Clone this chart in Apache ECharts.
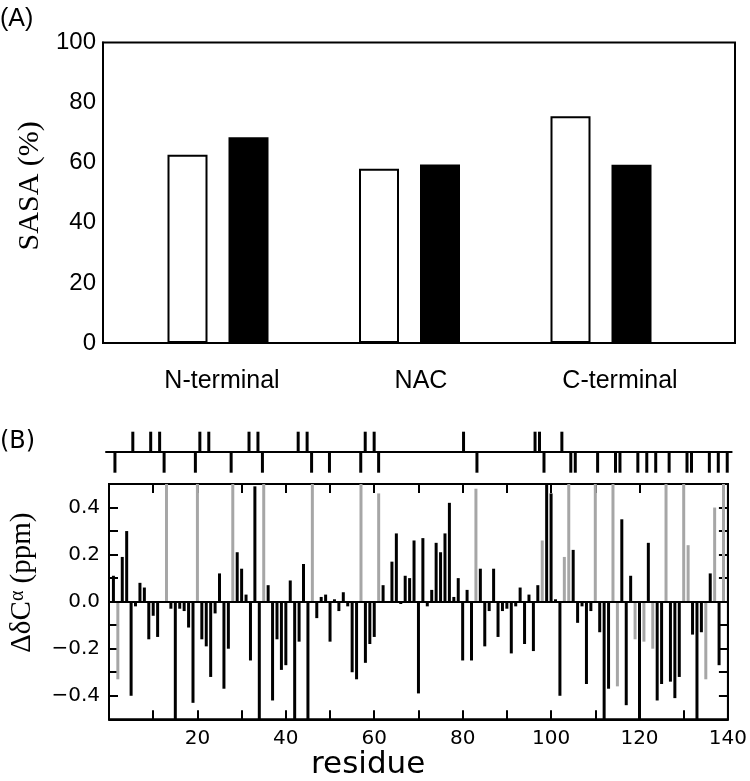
<!DOCTYPE html>
<html><head><meta charset="utf-8">
<script src="https://cdn.jsdelivr.net/npm/echarts@6/dist/echarts.min.js"></script>
<style>html,body{margin:0;padding:0;background:#fff}#c{width:750px;height:781px}</style>
</head><body><div id="c"></div>
<script>
// ---- Panel A data ----
const regions = ['N-terminal', 'NAC', 'C-terminal'];
const sasaOpen = [62.7, 58.0, 75.5];
const sasaFilled = [68.5, 59.4, 59.3];

// ---- Panel B data: ΔδCα per residue 1..140 (null = no data) ----
const shifts = [
  0.11, -0.33, 0.19, 0.30, -0.40, -0.02, 0.08, 0.06, -0.16, -0.06,      // 1-10
  -0.15, null, 0.60, -0.03, -0.60, -0.03, -0.04, -0.11, -0.43, 0.60,    // 11-20
  -0.16, -0.19, -0.32, -0.05, 0.12, -0.37, -0.20, 0.60, 0.21, 0.14,     // 21-30
  0.03, -0.25, 0.49, -0.60, 0.60, 0.07, -0.42, -0.16, -0.29, -0.27,     // 31-40
  0.09, -0.60, -0.17, 0.16, -0.60, 0.60, -0.07, 0.02, 0.03, -0.17,      // 41-50
  0.01, -0.04, 0.04, -0.02, -0.30, -0.33, 0.60, -0.26, -0.18, -0.15,    // 51-60
  0.46, 0.07, null, 0.17, 0.29, -0.01, 0.11, 0.10, 0.26, -0.39,         // 61-70
  0.27, -0.02, 0.05, 0.25, 0.21, 0.29, 0.42, 0.02, 0.10, -0.25,         // 71-80
  0.05, -0.25, 0.48, 0.14, -0.19, -0.04, 0.14, -0.15, -0.04, -0.03,     // 81-90
  -0.22, -0.02, 0.06, -0.18, 0.03, -0.21, 0.07, 0.26, 0.60, 0.46,       // 91-100
  0.01, -0.40, 0.19, 0.60, 0.22, -0.09, -0.02, -0.35, -0.04, 0.60,      // 101-110
  -0.13, -0.60, -0.37, 0.60, -0.36, 0.35, -0.44, 0.11, -0.16, -0.60,    // 111-120
  -0.17, 0.25, -0.20, -0.42, -0.35, 0.60, -0.34, -0.41, -0.32, 0.60,    // 121-130
  0.24, -0.14, -0.60, -0.13, -0.33, 0.12, 0.40, -0.27, 0.60, null       // 131-140
];
const grayResidues = [2, 13, 20, 28, 35, 46, 57, 61, 83, 98, 103, 104, 110, 114, 115, 119, 121, 123, 126, 130, 131, 135, 137, 139];
const upperMarks = [6, 10, 12, 21, 23, 32, 34, 43, 45, 58, 60, 80, 96, 97, 102];
const lowerMarks = [2, 13, 20, 28, 35, 46, 50, 57, 61, 83, 98, 104, 105, 110, 114, 115, 119, 121, 123, 126, 130, 131, 135, 137, 139];

const FA = "'Liberation Sans', Arial, sans-serif";
const FB = "'DejaVu Sans', sans-serif";
const SERIF = "'Liberation Serif', 'Times New Roman', serif";
const BLACK = '#000';
const GRAY = '#a6a6a6';
const line2 = {color: BLACK, width: 2};

const chart = echarts.init(document.getElementById('c'));

const shiftData = [];
shifts.forEach((v, i) => {
  if (v === null) return;
  const r = i + 1;
  shiftData.push({value: [r, v], itemStyle: {color: grayResidues.includes(r) ? GRAY : BLACK}});
});
const markData = upperMarks.map(r => [r, 1]).concat(lowerMarks.map(r => [r, -1]));

chart.setOption({
  animation: false,
  backgroundColor: '#fff',
  title: [
    {text: '(A)', left: 0, top: 7, padding: 0, textStyle: {fontFamily: FA, fontSize: 25, fontWeight: 'normal', color: BLACK}},
    {text: '(B)', left: 0, top: 430, padding: 0, textStyle: {fontFamily: FB, fontSize: 24, fontWeight: 'normal', color: BLACK}},
    {text: 'residue', left: 311, top: 749, padding: 0, textStyle: {fontFamily: FB, fontSize: 31, fontWeight: 'normal', color: BLACK}}
  ],
  grid: [
    {left: 103, right: 15, top: 42.6, height: 300.4, show: true, borderColor: BLACK, borderWidth: 2, backgroundColor: 'transparent'},
    {left: 122.25, right: 53.25, top: 42.6, height: 300.4},
    {left: 122.5, right: 30.5, top: 42.6, height: 300.4},
    {left: 106, right: 18.3, top: 431.7, height: 41},
    {left: 106, right: 18.3, top: 484, height: 235.3, show: true, borderColor: BLACK, borderWidth: 2, backgroundColor: 'transparent'}
  ],
  xAxis: [
    {gridIndex: 0, type: 'category', data: regions, show: false},
    {gridIndex: 1, type: 'category', data: regions, show: false},
    {gridIndex: 2, type: 'category', data: regions, axisLine: {show: false}, axisTick: {show: false},
     axisLabel: {fontFamily: FA, fontSize: 25, color: BLACK, margin: 26}},
    {gridIndex: 3, type: 'value', min: 0, max: 140, axisLine: {show: true, onZero: true, lineStyle: line2},
     axisTick: {show: false}, axisLabel: {show: false}, splitLine: {show: false}},
    {gridIndex: 4, type: 'value', min: 0, max: 140, interval: 10, position: 'bottom',
     axisLine: {show: true, onZero: false, lineStyle: line2},
     axisTick: {inside: true, length: 9, lineStyle: line2},
     axisLabel: {formatter: v => (v > 0 && v % 20 === 0) ? String(v) : '', fontFamily: FB, fontSize: 20, color: BLACK, margin: 9},
     splitLine: {show: false}},
    {gridIndex: 4, type: 'value', min: 0, max: 140, interval: 10, position: 'top',
     axisLine: {show: true, onZero: false, lineStyle: line2},
     axisTick: {inside: true, length: 9, lineStyle: line2},
     axisLabel: {show: false}, splitLine: {show: false}}
  ],
  yAxis: [
    {gridIndex: 0, type: 'value', min: 0, max: 100, interval: 10,
     axisLine: {show: true, lineStyle: line2},
     axisTick: {inside: true, length: 7, lineStyle: line2},
     axisLabel: {formatter: v => (v % 20 === 0) ? String(v) : '', fontFamily: FA, fontSize: 24, color: BLACK, margin: 7},
     splitLine: {show: false},
     name: 'SASA (%)', nameLocation: 'middle', nameRotate: 90, nameGap: 52,
     nameTextStyle: {fontFamily: SERIF, fontSize: 30, color: BLACK, padding: [0, 0, 0, 14]}},
    {gridIndex: 1, type: 'value', min: 0, max: 100, show: false},
    {gridIndex: 2, type: 'value', min: 0, max: 100, show: false},
    {gridIndex: 3, type: 'value', min: -1, max: 1, show: false},
    {gridIndex: 4, type: 'value', min: -0.5, max: 0.5, interval: 0.1,
     axisLine: {show: true, onZero: false, lineStyle: line2},
     axisTick: {inside: true, length: 9, lineStyle: line2},
     axisLabel: {formatter: v => (Math.round(v * 10) % 2 === 0) ? v.toFixed(1).replace('-', '\u2212') : '',
                 fontFamily: FB, fontSize: 20, color: BLACK, margin: 9},
     splitLine: {show: false},
     name: '{a|\u0394\u03B4C}{b|\u03B1}{a| (ppm)}', nameLocation: 'middle', nameRotate: 90, nameGap: 72,
     nameTextStyle: {padding: [0, 0, 0, 38], rich: {
       a: {fontFamily: SERIF, fontSize: 29, color: BLACK},
       b: {fontFamily: SERIF, fontSize: 20, color: BLACK, verticalAlign: 'top'}
     }}},
    {gridIndex: 4, type: 'value', min: -0.5, max: 0.5, interval: 0.1, position: 'right',
     axisLine: {show: true, onZero: false, lineStyle: line2},
     axisTick: {inside: true, length: 9, lineStyle: line2},
     axisLabel: {show: false}, splitLine: {show: false}}
  ],
  series: [
    {type: 'bar', xAxisIndex: 1, yAxisIndex: 1, data: sasaOpen, barWidth: 40, barGap: '52.5%',
     itemStyle: {color: '#fff', borderColor: BLACK, borderWidth: 2}},
    {type: 'bar', xAxisIndex: 1, yAxisIndex: 1, data: sasaFilled, barWidth: 40,
     itemStyle: {color: BLACK}},
    {type: 'bar', xAxisIndex: 3, yAxisIndex: 3, data: markData, barWidth: 3,
     itemStyle: {color: BLACK}},
    {type: 'bar', xAxisIndex: 4, yAxisIndex: 4, data: shiftData, barWidth: 3, clip: true,
     markLine: {silent: true, symbol: 'none', label: {show: false},
                lineStyle: {color: BLACK, width: 2, type: 'solid'}, data: [{yAxis: 0}]}}
  ]
});
</script>
</body></html>
